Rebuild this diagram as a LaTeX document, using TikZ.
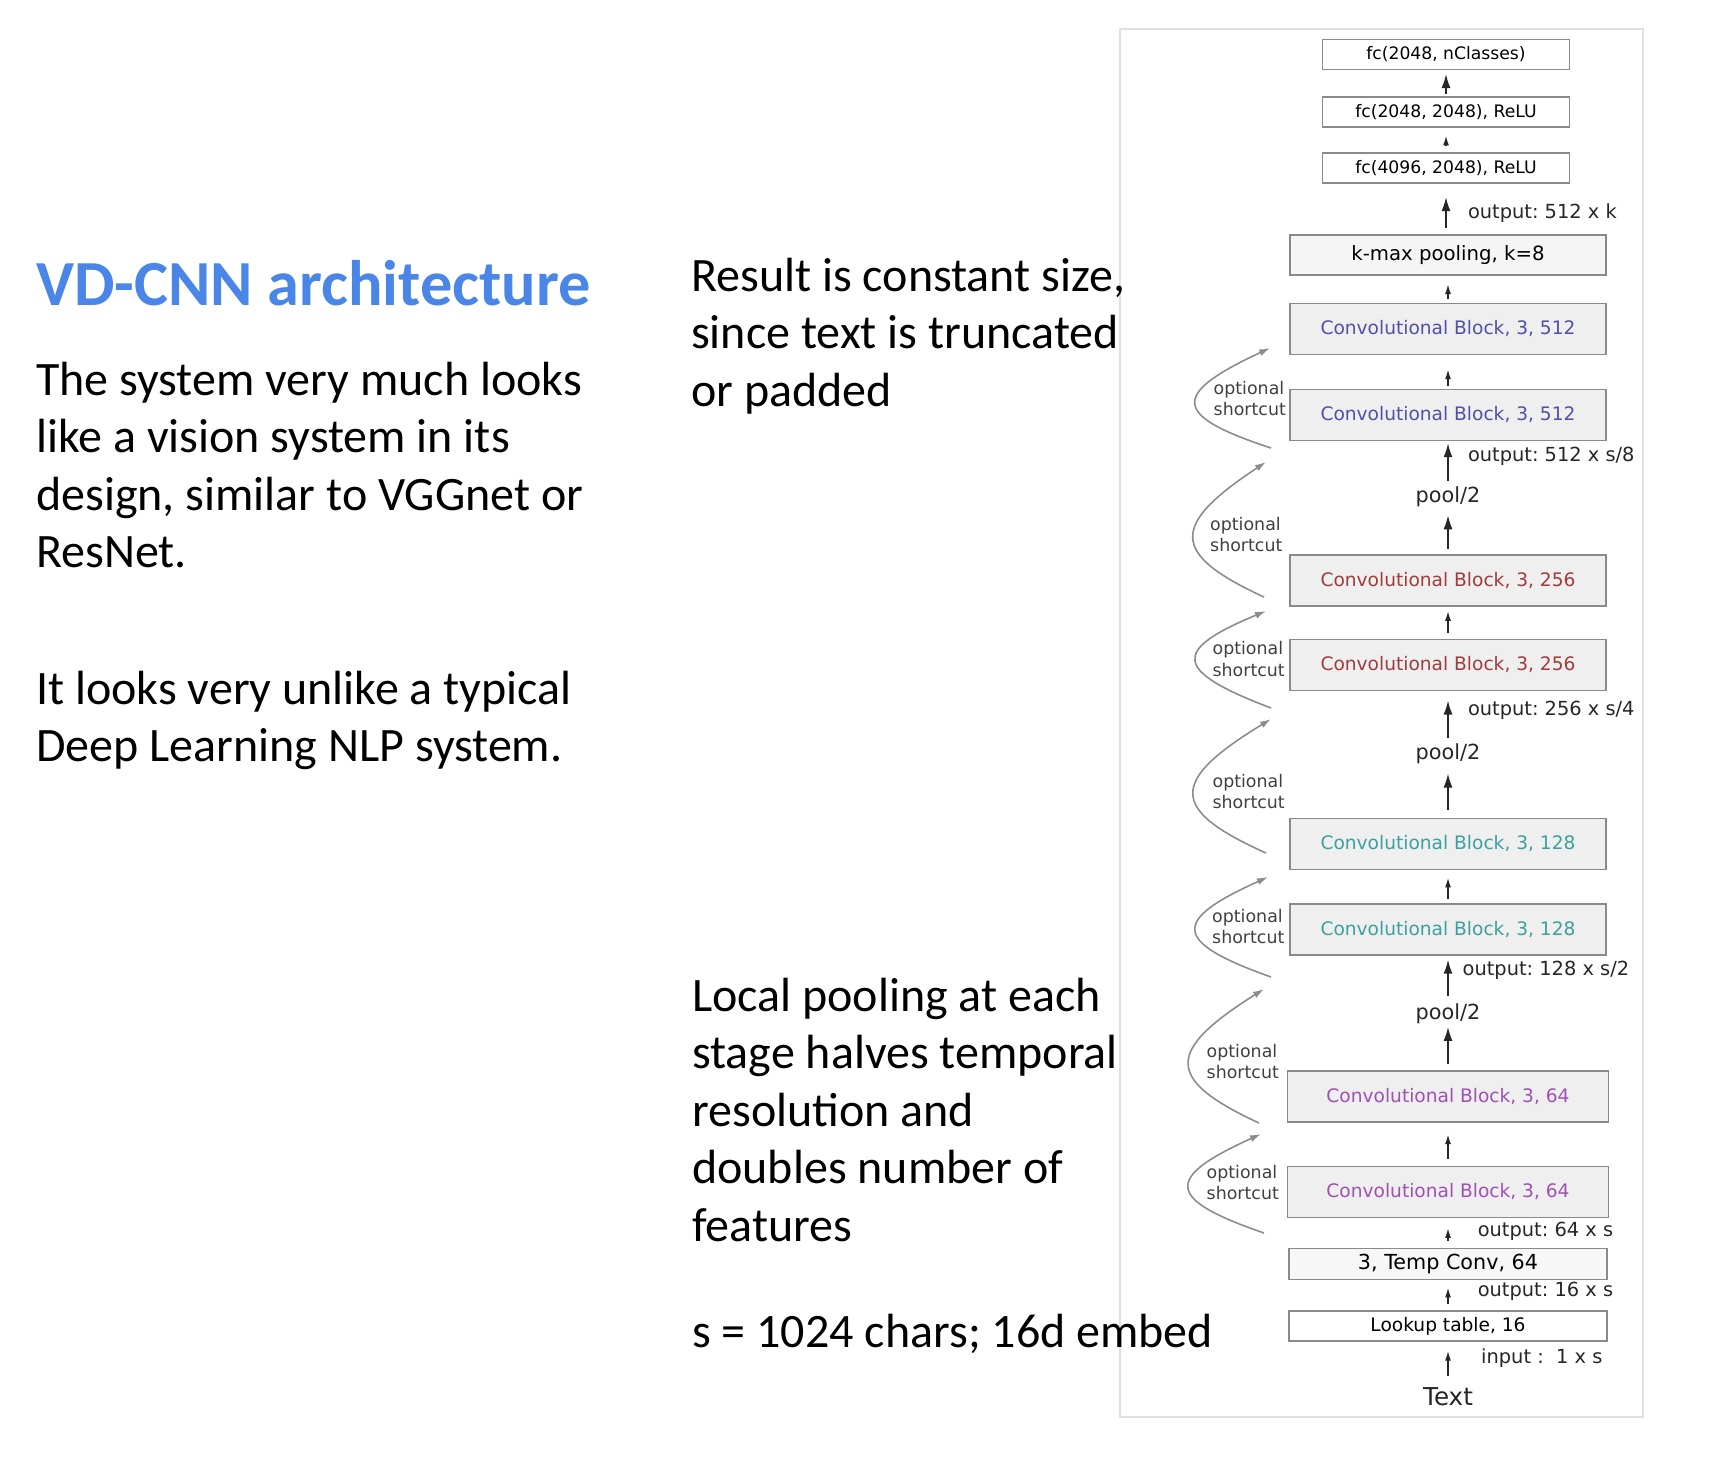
\documentclass[tikz,border=0pt]{standalone}
\usepackage{fontspec}
\setmainfont{Carlito}
\newfontfamily\dejavu{DejaVu Sans}
\usepackage{xcolor}
\usetikzlibrary{arrows.meta, positioning, calc}
\definecolor{titleblue}{HTML}{4A86E8}
\definecolor{blk512}{HTML}{5050A8}
\definecolor{blk256}{HTML}{A03C3C}
\definecolor{blk128}{HTML}{3CA0A0}
\definecolor{blk64}{HTML}{A050B4}
\definecolor{boxline}{HTML}{8A8A8A}
\definecolor{boxfill}{HTML}{EFEFEF}
\frenchspacing

\begin{document}
\begin{tikzpicture}[x=1pt, y=-1pt,
    layerbox/.style={draw=boxline, line width=1.4pt, inner sep=0pt, minimum width=316pt,
        font=\dejavu\fontsize{18.6}{22}\selectfont},
    fcbox/.style={layerbox, fill=white, minimum width=247pt, minimum height=30pt,
        font=\dejavu\fontsize{17.2}{20}\selectfont},
    convbox/.style={layerbox, fill=boxfill, minimum height=51pt},
    arr/.style={draw=black!85, line width=1.6pt, -{Latex[length=10pt,width=6pt]}},
    bigarr/.style={arr, -{Latex[length=14pt,width=9pt]}},
    shortcutarr/.style={draw=black!45, line width=1.6pt, -{Latex[length=11pt,width=7pt]}},
    sclabel/.style={anchor=west, inner sep=0pt, align=flush left, text=black!75,
        font=\dejavu\fontsize{17.4}{21}\selectfont},
    outlabel/.style={anchor=west, inner sep=0pt, text=black!85,
        font=\dejavu\fontsize{19.4}{22}\selectfont},
    poolnode/.style={inner sep=0pt, text=black!85, font=\dejavu\fontsize{20.8}{24}\selectfont},
    slide/.style={anchor=base west, inner sep=0pt, align=flush left, text width=640pt,
        font=\fontsize{48}{57.5}\selectfont}]
\useasboundingbox (0,0) rectangle (1716,1460);

\node[slide, text=titleblue, font=\bfseries\fontsize{64.3}{70}\selectfont] (title) at (36,305) {VD-CNN architecture};
\node[slide] (vision) at (36,395) {The system very much looks\\like a vision system in its\\design, similar to VGGnet or\\ResNet.};
\node[slide] (unlike) at (36,704) {It looks very unlike a typical\\Deep Learning NLP system.};

\draw[black!12, line width=1.2pt] (1120,29) rectangle (1643,1417);

\node[slide] (constant) at (691,291) {Result is constant size,\\since text is truncated\\or padded};
\node[slide] (pooling) at (692,1011) {Local pooling at each\\stage halves temporal\\resolution and\\doubles number of\\features};
\node[slide] (embed) at (692,1347) {s = 1024 chars; 16d embed};

\node[fcbox] (fcnc) at (1446,54.3) {fc(2048, nClasses)};
\node[fcbox] (fc2) at (1446,112) {fc(2048, 2048), ReLU};
\node[fcbox] (fc1) at (1446,168) {fc(4096, 2048), ReLU};
\node[layerbox, fill=black!4, minimum height=40pt, font=\dejavu\fontsize{19.7}{22}\selectfont] (kmax) at (1448,255) {k-max pooling, k=8};
\node[convbox, text=blk512] (c512a) at (1448,328.7) {Convolutional Block, 3, 512};
\node[convbox, text=blk512] (c512b) at (1448,415) {Convolutional Block, 3, 512};
\node[poolnode] (pool1) at (1448,496.7) {pool/2};
\node[convbox, text=blk256] (c256a) at (1448,580.3) {Convolutional Block, 3, 256};
\node[convbox, text=blk256] (c256b) at (1448,665) {Convolutional Block, 3, 256};
\node[poolnode] (pool2) at (1448,753.3) {pool/2};
\node[convbox, text=blk128] (c128a) at (1448,843.8) {Convolutional Block, 3, 128};
\node[convbox, text=blk128] (c128b) at (1448,929.5) {Convolutional Block, 3, 128};
\node[poolnode] (pool3) at (1448,1013.3) {pool/2};
\node[convbox, text=blk64, minimum width=321pt] (c64a) at (1448,1096.3) {Convolutional Block, 3, 64};
\node[convbox, text=blk64, minimum width=321pt] (c64b) at (1448,1191.7) {Convolutional Block, 3, 64};
\node[layerbox, fill=black!3, minimum width=318pt, minimum height=30.6pt, font=\dejavu\fontsize{20.7}{24}\selectfont] (temp) at (1448,1264) {3, Temp Conv, 64};
\node[layerbox, fill=white, minimum width=318pt, minimum height=30pt] (lookup) at (1448,1326) {Lookup table, 16};
\node[inner sep=0pt, text=black!85, font=\dejavu\fontsize{24.6}{28}\selectfont] (text) at (1448,1396.7) {Text};

\draw[bigarr, shorten <=2.7pt, shorten >=4pt] (fc2.north -| fcnc.south) -- (fcnc.south);
\draw[arr, shorten <=6pt, shorten >=7.7pt] (fc1.north) -- (fc2.south);
\draw[bigarr, shorten <=6.7pt, shorten >=13.4pt] (kmax.north -| fc1.south) -- (fc1.south);
\node[outlabel] (outk) at (1467.8,212.7) {output: 512 x k};
\draw[arr, shorten <=3.3pt, shorten >=8.3pt] (c512a.north) -- (kmax.south);
\draw[arr, shorten <=2.6pt, shorten >=14.3pt] (c512b.north) -- (c512a.south);
\draw[bigarr, shorten <=5pt, shorten >=2pt] (pool1.north) -- (c512b.south);
\node[outlabel] (out8) at (1467.8,456.7) {output: 512 x s/8};
\draw[bigarr, shorten <=5pt, shorten >=8.3pt] (c256a.north) -- (pool1.south);
\draw[arr, shorten <=6pt, shorten >=4.3pt] (c256b.north) -- (c256a.south);
\draw[bigarr, shorten <=5pt, shorten >=9.3pt] (pool2.north) -- (c256b.south);
\node[outlabel] (out4) at (1467.8,710) {output: 256 x s/4};
\draw[bigarr, shorten <=7.6pt, shorten >=10pt] (c128a.north) -- (pool2.south);
\draw[arr, shorten <=4.7pt, shorten >=7.4pt] (c128b.north) -- (c128a.south);
\draw[bigarr, shorten <=6.6pt, shorten >=4pt] (pool3.north) -- (c128b.south);
\node[outlabel] (out2) at (1462.5,970) {output: 128 x s/2};
\draw[bigarr, shorten <=6pt, shorten >=3.3pt] (c64a.north) -- (pool3.south);
\draw[arr, shorten <=6.7pt, shorten >=11.6pt] (c64b.north) -- (c64a.south);
\draw[arr, shorten <=7pt, shorten >=10pt] (temp.north) -- (c64b.south);
\node[outlabel] (out64) at (1477.6,1231.7) {output: 64 x s};
\draw[arr, shorten <=6pt, shorten >=7.4pt] (lookup.north) -- (temp.south);
\node[outlabel] (out16) at (1477.6,1291.7) {output: 16 x s};
\draw[arr, shorten <=11.7pt, shorten >=9pt] (text.north) -- (lookup.south);
\node[outlabel] (inlabel) at (1481,1358.3) {input :\ \ 1 x s};

\coordinate (s1from) at (1271,448);   \coordinate (s1to) at (1270,348);
\coordinate (s2from) at (1264,597);   \coordinate (s2to) at (1266,462);
\coordinate (s3from) at (1271,708);   \coordinate (s3to) at (1266,611);
\coordinate (s4from) at (1266,853);   \coordinate (s4to) at (1271,719);
\coordinate (s5from) at (1271,977);   \coordinate (s5to) at (1268,877);
\coordinate (s6from) at (1259,1123);  \coordinate (s6to) at (1264,989);
\coordinate (s7from) at (1264,1233);  \coordinate (s7to) at (1261,1134);
\draw[shortcutarr] (s1from) .. controls (1171,415.2) and (1171,394.2) .. (s1to);
\draw[shortcutarr] (s2from) .. controls (1170,553.7) and (1170,525.3) .. (s2to);
\draw[shortcutarr] (s3from) .. controls (1172,670.4) and (1172,650) .. (s3to);
\draw[shortcutarr] (s4from) .. controls (1169,809.4) and (1169,781.3) .. (s4to);
\draw[shortcutarr] (s5from) .. controls (1171.5,941.5) and (1171.5,920.5) .. (s5to);
\draw[shortcutarr] (s6from) .. controls (1165,1079.4) and (1165,1051.3) .. (s6to);
\draw[shortcutarr] (s7from) .. controls (1164.5,1198.7) and (1164.5,1177.7) .. (s7to);
\node[sclabel] (sc1) at (1213.5,398.8) {optional\\shortcut};
\node[sclabel] (sc2) at (1210,535) {optional\\shortcut};
\node[sclabel] (sc3) at (1212.4,659) {optional\\shortcut};
\node[sclabel] (sc4) at (1212.4,791) {optional\\shortcut};
\node[sclabel] (sc5) at (1212,926) {optional\\shortcut};
\node[sclabel] (sc6) at (1206.5,1061) {optional\\shortcut};
\node[sclabel] (sc7) at (1206.5,1182) {optional\\shortcut};
\end{tikzpicture}
\end{document}
